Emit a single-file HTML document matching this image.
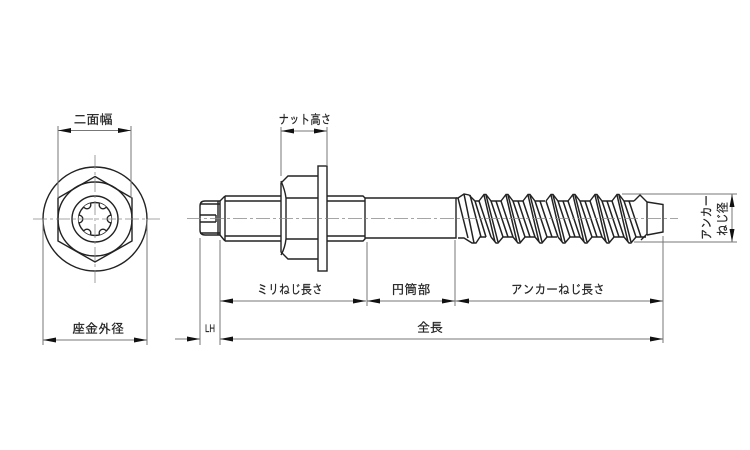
<!DOCTYPE html>
<html><head><meta charset="utf-8"><style>
html,body{margin:0;padding:0;background:#fff}
svg{display:block}
text{font-family:"Liberation Sans","IPAGothic","Noto Sans CJK JP",sans-serif;font-size:13px;fill:#222;stroke:#222;stroke-width:.2;text-anchor:middle}
.o{fill:none;stroke:#222;stroke-width:1.4}
.d{fill:none;stroke:#777;stroke-width:1}
.c{fill:none;stroke:#888;stroke-width:.8;stroke-dasharray:14 3 3 3}
</style></head><body>
<svg width="750" height="450" viewBox="0 0 750 450" xmlns="http://www.w3.org/2000/svg">
<defs>
<clipPath id="tc"><circle cx="95" cy="219" r="16.5"/></clipPath>
<g id="p">
<path d="M-6 201L-1 194.500L1 194.500L6 201H16" fill="none" stroke="#222" stroke-width="1.4"/>
<path d="M6 237L11 243L13 243L18 237H28" fill="none" stroke="#222" stroke-width="1.4"/>
<path d="M-6 201L6 237M-1 195L10 242M1 195L13 242M6 201L18 237M11 201L23 237" fill="none" stroke="#222" stroke-width="1.5"/>
</g>
</defs>

<!-- left view -->
<circle class="o" cx="95" cy="219" r="52"/>
<circle class="o" cx="95" cy="219" r="37" stroke-width="1"/>
<polygon class="o" points="95,176.500 132,198 132,241 95,262 58,241 58,198"/>
<circle class="o" cx="95" cy="219" r="23"/>
<circle class="o" cx="95" cy="219" r="16.500" stroke-width="1.7"/>
<g clip-path="url(#tc)" fill="#fff" stroke="#222" stroke-width="1.4">
<circle cx="111" cy="219" r="3.8"/><circle cx="103" cy="205" r="3.8"/><circle cx="87" cy="205" r="3.8"/>
<circle cx="79" cy="219" r="3.8"/><circle cx="87" cy="233" r="3.8"/><circle cx="103" cy="233" r="3.8"/>
</g>
<line class="c" x1="95" y1="155" x2="95" y2="283"/>
<line class="c" x1="33" y1="219" x2="160" y2="219"/>

<!-- bolt body -->
<path class="o" d="M220 201H205Q200 201 200 206V230Q200 235 205 235H220Z" stroke-width="1.6"/>
<path class="o" d="M200 204H220M200 233H220M200 215H216M200 222H216M216 215V222M218 201V235" stroke-width="1"/>
<path class="o" d="M220 201L225 196M220 235L225 241M225 196V241"/>
<path class="o" d="M225 196H281M225 241H281M225 201H281M225 236H281" stroke-width="1.3"/>
<path class="o" d="M327 196H363L365 198V239L363 241H327M327 201H365M327 236H365" stroke-width="1.3"/>
<path class="o" d="M365 198H456V238H365"/>
<path class="o" d="M318 176H288L281 183V252L288 259H318"/>
<path class="o" d="M281 181Q285 190 286 198V239Q285 248 281 255M286 198H318M286 239H318"/>
<rect class="o" x="318" y="166" width="9" height="105" fill="#fff"/>

<!-- thread -->
<path class="o" d="M456 198L458 198L464 194L469 195L475 201H479"/>
<path class="o" d="M458 238H464L472 243L476 243L480 237H486"/>
<path d="M458 198L468 238M464 194L474 243M470 195L481 237M475 201L486 237" fill="none" stroke="#222" stroke-width="1.5"/>
<use href="#p" x="485"/><use href="#p" x="507"/><use href="#p" x="529"/><use href="#p" x="552"/>
<use href="#p" x="574"/><use href="#p" x="596"/><use href="#p" x="618"/>
<path class="o" d="M634 201L640 195L646 201L647 202V234L641 240"/>
<path class="o" d="M647 202L663 204.500V232L647 235"/>
<line class="c" x1="187" y1="218.500" x2="678" y2="218.500"/>

<!-- extension lines -->
<path class="d" d="M58 126V198M131 126V198M281 127V176M327 127V166M43 219V345M147 219V345M200 238V345M220 240V345M367 242V306M455 240V306M663 236V343M622 194H737M634 242H737"/>

<!-- dimension lines -->
<path class="d" d="M58 130.500H131M281 131H327M43 340H147M220 301H366M367 301H455M455 301H663M175 339H200M732 194V242"/>
<path class="d" d="M220 339H663" stroke-width="1.400" stroke="#999"/>
<g fill="#111">
<path d="M58 130.500L71 128V133ZM131 130.500L118 128V133Z"/>
<path d="M281 131L294 128.500V133.500ZM327 131L314 128.500V133.500Z"/>
<path d="M43 340L56 337.500V342.500ZM147 340L134 337.500V342.500Z"/>
<path d="M220 301L233 298.500V303.500ZM366 301L353 298.500V303.500Z"/>
<path d="M367 301L380 298.500V303.500ZM455 301L442 298.500V303.500Z"/>
<path d="M456 301L469 298.500V303.500ZM663 301L650 298.500V303.500Z"/>
<path d="M200 339L187 336.500V341.500ZM220 339L233 336.500V341.500ZM663 339L650 336.500V341.500Z"/>
<path d="M732 194L729.500 207H734.500ZM732 242L729.500 229H734.500Z"/>
</g>

<!-- labels -->
<text x="93" y="124">二面幅</text>
<text x="305" y="124" textLength="53" lengthAdjust="spacingAndGlyphs">ナット高さ</text>
<text x="98" y="333" textLength="52">座金外径</text>
<text x="290" y="294" textLength="66" lengthAdjust="spacingAndGlyphs">ミリねじ長さ</text>
<text x="411" y="294">円筒部</text>
<text x="558" y="294" textLength="94" lengthAdjust="spacingAndGlyphs">アンカーねじ長さ</text>
<text x="430" y="332">全長</text>
<text x="210" y="332" style="font-size:11px" textLength="10" lengthAdjust="spacingAndGlyphs">LH</text>
<text transform="translate(711 217.500) rotate(-90)" textLength="45" lengthAdjust="spacingAndGlyphs">アンカー</text>
<text transform="translate(727 219) rotate(-90)" textLength="34" lengthAdjust="spacingAndGlyphs">ねじ径</text>
</svg>
</body></html>
